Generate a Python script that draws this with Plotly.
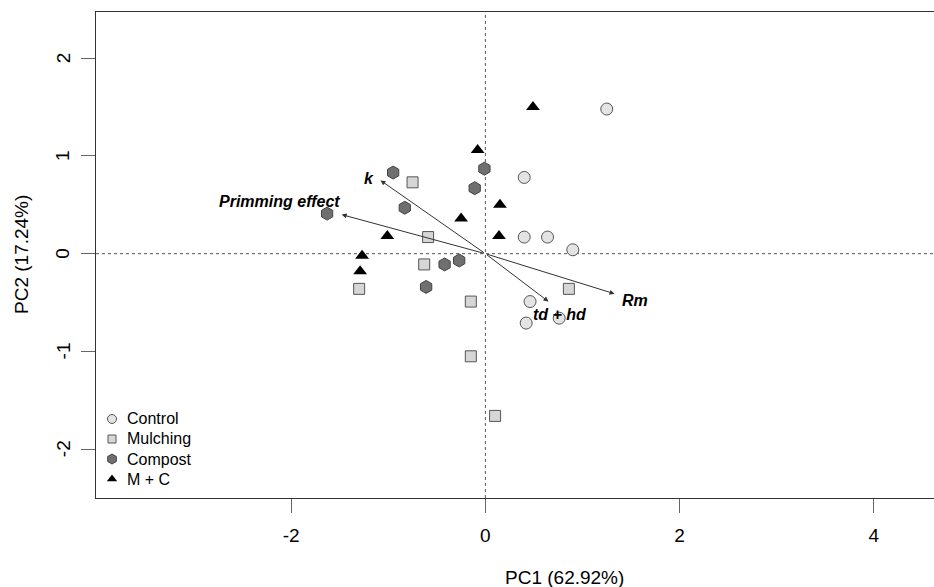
import plotly.graph_objects as go

# ---- data ----
control_pc1 = [1.25, 0.40, 0.40, 0.64, 0.90, 0.46, 0.42, 0.76]
control_pc2 = [1.48, 0.78, 0.17, 0.17, 0.04, -0.49, -0.71, -0.66]

mulching_pc1 = [-0.75, -0.59, -0.63, -1.30, -0.15, -0.15, 0.86, 0.10]
mulching_pc2 = [0.73, 0.17, -0.11, -0.36, -0.49, -1.05, -0.36, -1.66]

compost_pc1 = [-0.95, -0.83, -1.63, -0.01, -0.11, -0.42, -0.27, -0.61]
compost_pc2 = [0.83, 0.47, 0.41, 0.87, 0.67, -0.11, -0.07, -0.34]

mc_pc1 = [0.49, -0.08, 0.15, -0.25, -1.01, 0.14, -1.27, -1.29]
mc_pc2 = [1.50, 1.06, 0.50, 0.36, 0.18, 0.18, -0.02, -0.18]

load_names = ["k", "Primming effect", "Rm", "td + hd"]
load_pc1 = [-1.08, -1.48, 1.33, 0.65]
load_pc2 = [0.75, 0.40, -0.41, -0.49]

group_names = ["Control", "Mulching", "Compost", "M + C"]

x_ticks = [-2, 0, 2, 4]
x_tick_text = ["-2", "0", "2", "4"]
y_ticks = [-2, -1, 0, 1, 2]
y_tick_text = ["-2", "-1", "0", "1", "2"]

x_title = "PC1 (62.92%)"
y_title = "PC2 (17.24%)"

# ---- styling ----
FONT = "Liberation Sans, Arial, sans-serif"
label_style = {
    "k": dict(xanchor="right", xshift=-5, yshift=2),
    "Primming effect": dict(xanchor="right", xshift=0, yshift=13),
    "Rm": dict(xanchor="left", xshift=5, yshift=-7),
    "td + hd": dict(xanchor="left", xshift=-18, yshift=-13),
}

styles = [
    dict(symbol="circle", size=12, color="#e3e3e3", line=dict(color="#555555", width=1)),
    dict(symbol="square", size=11, color="#d6d6d6", line=dict(color="#555555", width=1)),
    dict(symbol="hexagon", size=13, color="#6f6f6f", line=dict(color="#444444", width=1)),
    dict(symbol="triangle-up", size=12, color="#000000", line=dict(color="#000000", width=0)),
]

fig = go.Figure()

data_x = [control_pc1, mulching_pc1, compost_pc1, mc_pc1]
data_y = [control_pc2, mulching_pc2, compost_pc2, mc_pc2]
for name, xs, ys, mk in zip(group_names, data_x, data_y, styles):
    fig.add_trace(go.Scatter(x=xs, y=ys, mode="markers", name=name, marker=mk,
                             cliponaxis=False, showlegend=False))

# custom legend (symbols on an overlay axis in plot-fraction units)
leg_x0 = 0.0191
leg_y0 = 0.1626
leg_dy = 0.0412
for i, (name, mk) in enumerate(zip(group_names, styles)):
    small = dict(mk)
    small["size"] = mk["size"] - 3
    fig.add_trace(go.Scatter(x=[leg_x0], y=[leg_y0 - i * leg_dy], mode="markers",
                             marker=small, xaxis="x2", yaxis="y2",
                             showlegend=False, hoverinfo="skip",
                             cliponaxis=False))

annotations = []
for i, name in enumerate(group_names):
    annotations.append(dict(x=leg_x0, y=leg_y0 - i * leg_dy, xref="paper",
                            yref="paper", showarrow=False, text=name,
                            xanchor="left", yanchor="middle", xshift=13,
                            font=dict(family=FONT, size=16, color="#000000")))

for name, lx, ly in zip(load_names, load_pc1, load_pc2):
    annotations.append(dict(x=lx, y=ly, ax=0, ay=0, xref="x", yref="y",
                            axref="x", ayref="y", text="", showarrow=True,
                            arrowhead=2, arrowsize=1, arrowwidth=1,
                            arrowcolor="#333333", standoff=0, startstandoff=0))
    st = label_style[name]
    annotations.append(dict(x=lx, y=ly, xref="x", yref="y", showarrow=False,
                            text="<b><i>" + name + "</i></b>",
                            font=dict(family=FONT, size=16, color="#000000"),
                            xanchor=st["xanchor"], yanchor="middle",
                            xshift=st["xshift"], yshift=st["yshift"]))

for v, t in zip(y_ticks, y_tick_text):
    annotations.append(dict(x=0, y=v, xref="paper", yref="y", showarrow=False,
                            text=t, textangle=-90, xanchor="center",
                            yanchor="middle", xshift=-33,
                            font=dict(family=FONT, size=19, color="#000000")))

annotations.append(dict(x=0, y=0.5, xref="paper", yref="paper", showarrow=False,
                        text=y_title, textangle=-90, xanchor="center",
                        yanchor="middle", xshift=-75,
                        font=dict(family=FONT, size=19, color="#000000")))
annotations.append(dict(x=0.5585, y=-0.163, xref="paper", yref="paper",
                        showarrow=False, text=x_title, xanchor="center",
                        yanchor="middle",
                        font=dict(family=FONT, size=19, color="#000000")))

shapes = [
    dict(type="line", x0=0, x1=0, y0=0, y1=1, xref="x", yref="paper",
         line=dict(color="#555555", width=1, dash="3px,3px"), layer="below"),
    dict(type="line", x0=0, x1=1, y0=0, y1=0, xref="paper", yref="y",
         line=dict(color="#555555", width=1, dash="3px,3px"), layer="below"),
]

fig.update_layout(
    width=934, height=587,
    margin=dict(l=96, r=0, t=12, b=89, autoexpand=False),
    paper_bgcolor="white", plot_bgcolor="white",
    font=dict(family=FONT, color="#000000"),
    showlegend=False,
    annotations=annotations,
    shapes=shapes,
    xaxis=dict(range=[-4.01, 4.62], tickvals=x_ticks, ticktext=x_tick_text,
               ticks="outside",
               ticklen=14, tickcolor="#666666", tickwidth=1,
               showline=True, linecolor="#333333", linewidth=1, mirror=True,
               showgrid=False, zeroline=False, ticklabelstandoff=6,
               tickfont=dict(family=FONT, size=19, color="#000000")),
    yaxis=dict(range=[-2.50, 2.473], tickvals=y_ticks, ticks="outside",
               ticklen=14, tickcolor="#666666", tickwidth=1,
               showline=True, linecolor="#333333", linewidth=1, mirror=False,
               showgrid=False, zeroline=False, showticklabels=False),
    xaxis2=dict(domain=[0, 1], range=[0, 1], anchor="y2", overlaying="x",
                visible=False, fixedrange=True),
    yaxis2=dict(domain=[0, 1], range=[0, 1], anchor="x2", overlaying="y",
                visible=False, fixedrange=True),
)

fig.write_html(
    "out.html",
    config={"displayModeBar": False},
    post_script="document.body.style.margin='0px';document.body.style.overflow='hidden';",
)
